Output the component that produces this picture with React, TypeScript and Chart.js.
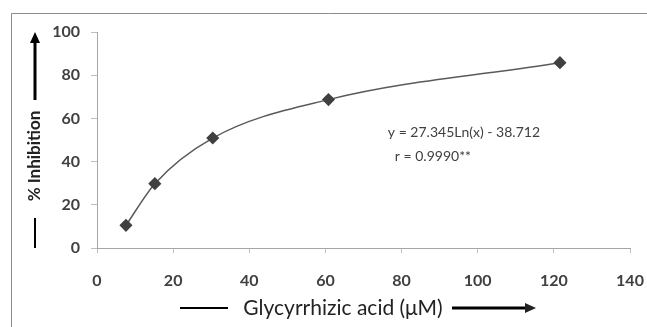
import React, { useEffect, useRef } from "react";
import { Chart, registerables } from "chart.js";

Chart.register(...registerables);

// ---- data ----
const concentrations = [7.6, 15.2, 30.4, 60.8, 121.6];
const inhibition = [10.5, 29.8, 50.9, 68.7, 85.8];
const xTickMin = 0;
const xTickMax = 140;
const xTickStep = 20;
const yTickMin = 0;
const yTickMax = 100;
const yTickStep = 20;
const equationLines = ["y = 27.345Ln(x) - 38.712", "r = 0.9990**"];
const equationAnchor = { x: 76.4, y: 53.3 };
const xTitle = "Glycyrrhizic acid (\u03bcM)";
const yTitle = "% Inhibition";

const FONT = "Lato, 'Open Sans', sans-serif";
const TEXT = "#404040";

function arrowHead(ctx: CanvasRenderingContext2D, x: number, y: number, dir: "up" | "right") {
  ctx.beginPath();
  if (dir === "up") {
    ctx.moveTo(x, y);
    ctx.lineTo(x - 5, y + 11);
    ctx.lineTo(x + 5, y + 11);
  } else {
    ctx.moveTo(x, y);
    ctx.lineTo(x - 11, y - 5);
    ctx.lineTo(x - 11, y + 5);
  }
  ctx.closePath();
  ctx.fill();
}

const decorations = {
  id: "decorations",
  afterDraw(chart: any) {
    const ctx: CanvasRenderingContext2D = chart.ctx;
    const xs = chart.scales.x;
    const ys = chart.scales.y;
    ctx.save();
    // outer frame (partially visible)
    ctx.strokeStyle = "#8c8c8c";
    ctx.lineWidth = 1;
    ctx.beginPath();
    ctx.moveTo(11.5, chart.height);
    ctx.lineTo(11.5, 13.5);
    ctx.lineTo(chart.width, 13.5);
    ctx.stroke();

    // equation text
    ctx.fillStyle = TEXT;
    ctx.font = `14px ${FONT}`;
    ctx.textBaseline = "middle";
    ctx.textAlign = "left";
    const ex = xs.getPixelForValue(equationAnchor.x);
    const ey = ys.getPixelForValue(equationAnchor.y);
    ctx.fillText(equationLines[0], ex, ey);
    ctx.fillText(equationLines[1], ex + 7, ey + 24);

    // y title with arrow
    ctx.fillStyle = "#000";
    ctx.strokeStyle = "#000";
    const yx = 35;
    ctx.save();
    ctx.translate(yx, 156);
    ctx.rotate(-Math.PI / 2);
    ctx.font = `bold 17px ${FONT}`;
    ctx.fillStyle = "#222";
    ctx.textAlign = "center";
    ctx.textBaseline = "middle";
    ctx.fillText(yTitle, 0, 0);
    ctx.restore();
    ctx.lineWidth = 3;
    ctx.beginPath();
    ctx.moveTo(yx, 100);
    ctx.lineTo(yx, 40);
    ctx.stroke();
    arrowHead(ctx, yx, 32, "up");
    ctx.lineWidth = 2;
    ctx.beginPath();
    ctx.moveTo(yx, 218);
    ctx.lineTo(yx, 248);
    ctx.stroke();

    // x title with arrow
    const ty = 308;
    ctx.font = `21px ${FONT}`;
    ctx.fillStyle = "#222";
    ctx.textAlign = "center";
    ctx.textBaseline = "middle";
    ctx.fillText(xTitle, 343, ty);
    ctx.lineWidth = 2;
    ctx.beginPath();
    ctx.moveTo(180, ty);
    ctx.lineTo(228, ty);
    ctx.stroke();
    ctx.lineWidth = 3;
    ctx.beginPath();
    ctx.moveTo(452, ty);
    ctx.lineTo(526, ty);
    ctx.stroke();
    arrowHead(ctx, 536, ty, "right");
    ctx.restore();
  },
};

export default function App() {
  const ref = useRef<HTMLCanvasElement | null>(null);
  useEffect(() => {
    document.body.style.margin = "0";
    const canvas = ref.current!;
    const chart = new Chart(canvas, {
      type: "line",
      data: {
        datasets: [
          {
            data: concentrations.map((x, i) => ({ x, y: inhibition[i] })),
            borderColor: "#5a5a5a",
            borderWidth: 1.5,
            backgroundColor: "#404040",
            pointBackgroundColor: "#404040",
            pointBorderColor: "#404040",
            pointStyle: "rectRot",
            pointRadius: 5.5,
            cubicInterpolationMode: "monotone",
            fill: false,
          },
        ],
      },
      options: {
        responsive: false,
        animation: false,
        layout: { padding: { top: 32, right: 17, left: 0, bottom: 0 } },
        plugins: { legend: { display: false }, tooltip: { enabled: false } },
        scales: {
          x: {
            type: "linear",
            min: xTickMin,
            max: xTickMax,
            afterFit: (s: any) => {
              s.height = 79;
              s.paddingLeft = 0;
              s.paddingRight = 0;
            },
            ticks: {
              stepSize: xTickStep,
              color: TEXT,
              font: { family: FONT, size: 16, weight: "bold" },
              padding: 18,
            },
            grid: {
              drawOnChartArea: false,
              drawTicks: true,
              tickLength: 5,
              color: "#bfbfbf",
            },
            border: { color: "#a6a6a6", width: 1 },
          },
          y: {
            min: yTickMin,
            max: yTickMax,
            afterFit: (s: any) => {
              s.width = 97;
              s.paddingTop = 0;
              s.paddingBottom = 0;
            },
            ticks: {
              stepSize: yTickStep,
              color: TEXT,
              font: { family: FONT, size: 16, weight: "bold" },
              padding: 11,
            },
            grid: {
              drawOnChartArea: false,
              drawTicks: true,
              tickLength: 6,
              color: "#bfbfbf",
            },
            border: { color: "#a6a6a6", width: 1 },
          },
        },
      },
      plugins: [decorations],
    });
    return () => chart.destroy();
  }, []);
  return (
    <div style={{ width: 647, height: 327, background: "#fff" }}>
      <canvas ref={ref} width={647} height={327} />
    </div>
  );
}
